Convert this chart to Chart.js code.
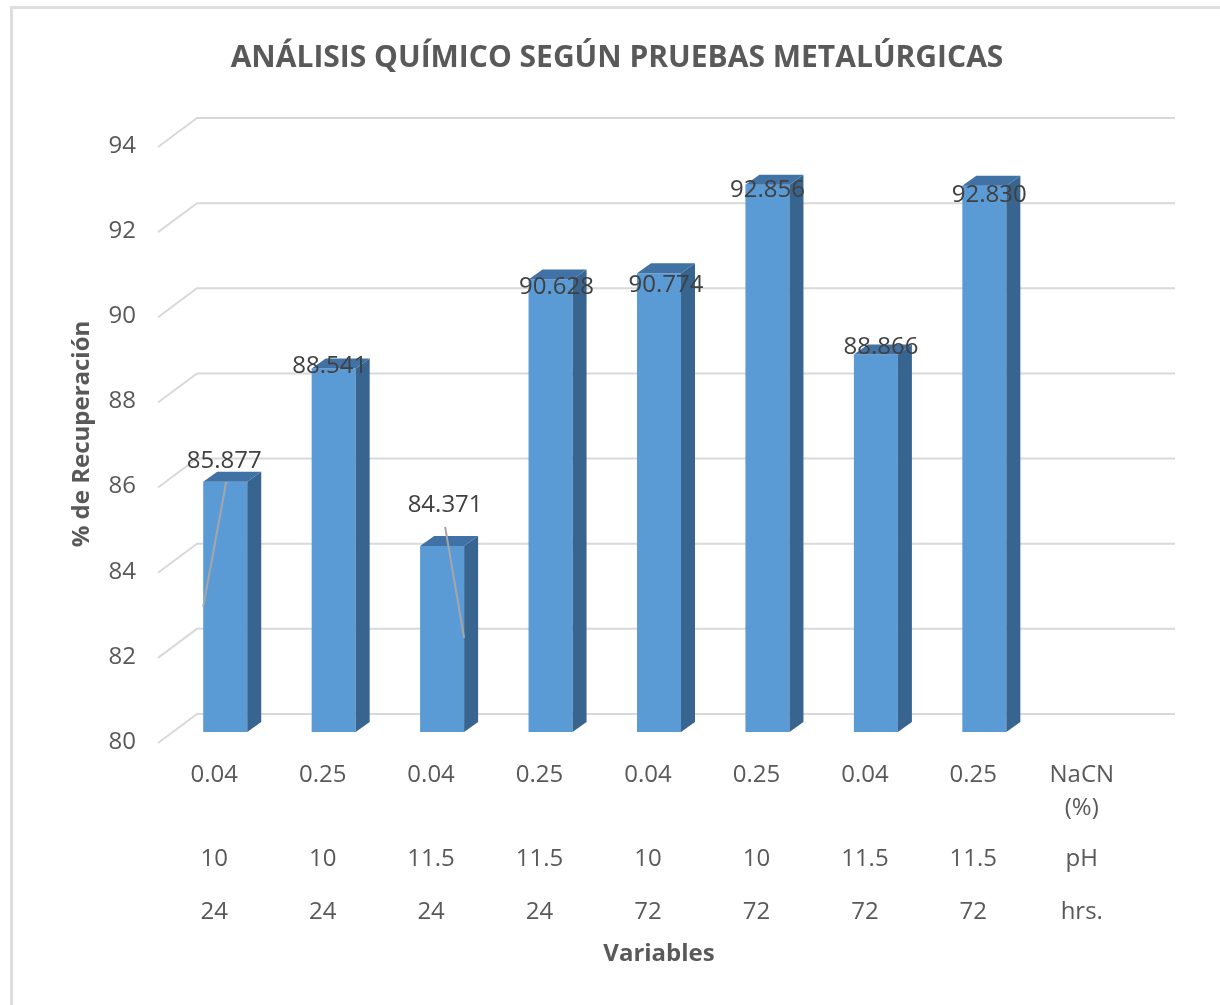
<!DOCTYPE html>
<html><head><meta charset="utf-8">
<script src="https://cdn.jsdelivr.net/npm/chart.js@4.4.0/dist/chart.umd.min.js"></script>
<style>
html,body{margin:0;padding:0;background:#fff;overflow:hidden;}
#frame{position:absolute;left:10px;top:6px;width:1300px;height:1100px;border-left:3px solid #dedede;border-top:3px solid #dedede;box-sizing:border-box;}
#c{position:absolute;left:0;top:0;}
</style></head><body>
<div id="frame"></div>
<canvas id="c" width="1220" height="1005"></canvas>
<script>
// ---- data ----
const nacnLabels = ['0.04','0.25','0.04','0.25','0.04','0.25','0.04','0.25',['NaCN','(%)']];
const phLabels   = ['10','10','11.5','11.5','10','10','11.5','11.5','pH'];
const hrsLabels  = ['24','24','24','24','72','72','72','72','hrs.'];
const recovery   = [85.877, 88.541, 84.371, 90.628, 90.774, 92.856, 88.866, 92.830, null];
const yMin = 80, yMax = 94, yStep = 2;
const titleText = 'ANÁLISIS QUÍMICO SEGÚN PRUEBAS METALÚRGICAS';
const yTitle = '% de Recuperación';
const xTitle = 'Variables';

// ---- layout / style ----
const FONT = "'Open Sans', 'DejaVu Sans', sans-serif";
const TXT = '#595959';
const DX = 14, DY = -10;             // 3D depth of bars
// data label offsets relative to bar top-centre
const labelShift = [[-1,-21],[-4,-2],[3,-41],[6,8],[7,12],[0,5],[5,-7],[5,9]];
// leader lines relative to bar top-centre: [fromDx, fromDy, toDx, toDy]
const leaders = {0:[1,0,-22,125], 2:[3,-19,22,92]};

const bar3d = {
  id: 'bar3d',
  beforeDatasetsDraw(chart) {
    const {ctx, chartArea, scales:{y}} = chart;
    ctx.save();
    ctx.strokeStyle = '#d9d9d9';
    ctx.lineWidth = 2;
    y.ticks.forEach(t => {
      const py = y.getPixelForValue(t.value);
      ctx.beginPath();
      ctx.moveTo(chartArea.left - 13, py + 11);
      ctx.lineTo(chartArea.left + 26, py - 18);
      ctx.lineTo(chartArea.right + 28, py - 18);
      ctx.stroke();
    });
    ctx.restore();
  },
  afterDatasetsDraw(chart) {
    const {ctx, chartArea} = chart;
    const meta = chart.getDatasetMeta(0);
    ctx.save();
    meta.data.forEach((bar, i) => {
      if (recovery[i] == null) return;
      const p = bar.getProps(['x','y','base','width'], true);
      const x = p.x, y = p.y, width = p.width;
      const base = Math.min(p.base, chartArea.bottom);
      const l = x - width/2, r = x + width/2;
      ctx.fillStyle = '#386590';
      ctx.beginPath();
      ctx.moveTo(r, y); ctx.lineTo(r+DX, y+DY); ctx.lineTo(r+DX, base+DY); ctx.lineTo(r, base);
      ctx.closePath(); ctx.fill();
      ctx.fillStyle = '#4172a6';
      ctx.beginPath();
      ctx.moveTo(l, y); ctx.lineTo(l+DX, y+DY); ctx.lineTo(r+DX, y+DY); ctx.lineTo(r, y);
      ctx.closePath(); ctx.fill();
    });
    meta.data.forEach((bar, i) => {
      if (recovery[i] == null) return;
      const {x, y} = bar.getProps(['x','y'], true);
      const ld = leaders[i];
      if (ld) {
        ctx.strokeStyle = '#a6a6a6'; ctx.lineWidth = 2;
        ctx.beginPath();
        ctx.moveTo(x + ld[0], y + ld[1]);
        ctx.lineTo(x + ld[2], y + ld[3]);
        ctx.stroke();
      }
      const sh = labelShift[i] || [0,0];
      ctx.fillStyle = '#404040';
      ctx.font = "24px " + FONT;
      ctx.textAlign = 'center';
      ctx.textBaseline = 'middle';
      ctx.fillText(recovery[i].toFixed(3), x + sh[0], y + sh[1]);
    });
    ctx.restore();
  }
};

const tickFont = {family: FONT, size: 24, lineHeight: 1.375};
const noGrid = {display: false, drawTicks: false};

new Chart(document.getElementById('c'), {
  type: 'bar',
  data: {
    labels: nacnLabels,
    datasets: [{data: recovery, backgroundColor: '#5b9bd5', borderWidth: 0, barPercentage: 0.406, categoryPercentage: 1}]
  },
  options: {
    responsive: false, animation: false, devicePixelRatio: 1,
    layout: {padding: {left: 14, right: 0, top: 0, bottom: 36}},
    plugins: {
      legend: {display: false}, tooltip: {enabled: false},
      title: {display: true, text: titleText, color: TXT,
        font: {family: FONT, size: 30, weight: 'bold', lineHeight: 1.2},
        padding: {top: 40, bottom: 60}}
    },
    scales: {
      x: {type: 'category', position: 'bottom', weight: 0, offset: true,
        grid: noGrid, border: {display: false},
        ticks: {color: TXT, font: tickFont, padding: 27, labelOffset: -11, maxRotation: 0, autoSkip: false},
        afterFit(s) { s.height = 91; }},
      x2: {type: 'category', labels: phLabels, position: 'bottom', weight: 1, offset: true,
        grid: noGrid, border: {display: false},
        ticks: {color: TXT, font: tickFont, padding: 20, labelOffset: -11, maxRotation: 0, autoSkip: false},
        afterFit(s) { s.height = 51; }},
      x3: {type: 'category', labels: hrsLabels, position: 'bottom', weight: 2, offset: true,
        grid: noGrid, border: {display: false},
        ticks: {color: TXT, font: tickFont, padding: 22, labelOffset: -11, maxRotation: 0, autoSkip: false},
        title: {display: true, text: xTitle, color: TXT, font: {family: FONT, size: 24, weight: 'bold', lineHeight: 1.2}, padding: {top: 0, bottom: 0}},
        afterFit(s) { s.height = 95; }},
      y: {min: yMin, max: yMax, position: 'left',
        grid: noGrid, border: {display: false},
        ticks: {stepSize: yStep, color: TXT, font: {family: FONT, size: 24}, padding: 35, labelOffset: 10},
        title: {display: true, text: yTitle, color: TXT, font: {family: FONT, size: 24, weight: 'bold', lineHeight: 1.2}, padding: {top: 54, bottom: 0}},
        afterFit(s) { s.width = 157; }},
      yRight: {type: 'linear', position: 'right', display: true,
        grid: noGrid, border: {display: false}, ticks: {display: false},
        afterFit(s) { s.width = 73; }}
    }
  },
  plugins: [bar3d]
});
</script>
</body></html>
